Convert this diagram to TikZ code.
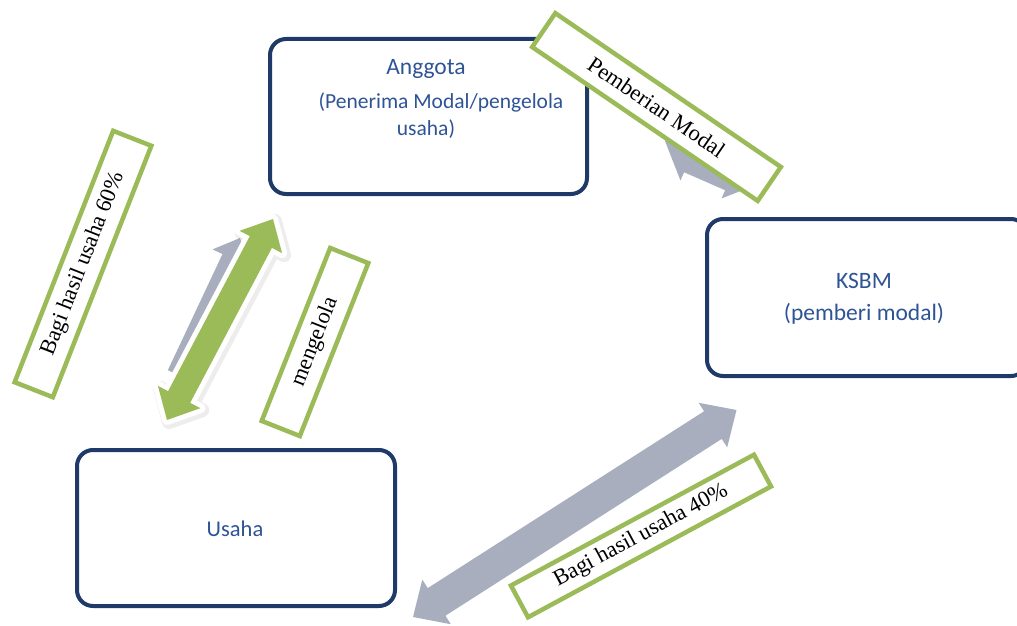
\documentclass[tikz,border=0pt]{standalone}
\usepackage{fontspec}
\setmainfont{Liberation Serif}
\newfontfamily\boxfont{Carlito}
\usepackage{tikz}
\usetikzlibrary{calc}
\definecolor{boxblue}{RGB}{31,58,104}
\definecolor{txtblue}{RGB}{46,84,150}
\definecolor{lblgreen}{RGB}{155,187,89}
\definecolor{arrgray}{RGB}{168,174,189}

% block arrow with two heads: style, from, to, shaft half, head half, head length
\newcommand{\dblarrow}[6]{%
  \path[#1] (#2)
    -- ($(#2)!#6pt!(#3)!#5pt!90:(#3)$) -- ($(#2)!#6pt!(#3)!#4pt!90:(#3)$)
    -- ($(#3)!#6pt!(#2)!#4pt!-90:(#2)$) -- ($(#3)!#6pt!(#2)!#5pt!-90:(#2)$)
    -- (#3)
    -- ($(#3)!#6pt!(#2)!#5pt!90:(#2)$) -- ($(#3)!#6pt!(#2)!#4pt!90:(#2)$)
    -- ($(#2)!#6pt!(#3)!#4pt!-90:(#3)$) -- ($(#2)!#6pt!(#3)!#5pt!-90:(#3)$)
    -- cycle;}
% block arrow with one head: style, tail, tip, shaft half, head half, head length
\newcommand{\onearrow}[6]{%
  \path[#1] ($(#2)!#4pt!90:(#3)$)
    -- ($(#3)!#6pt!(#2)!#4pt!-90:(#2)$) -- ($(#3)!#6pt!(#2)!#5pt!-90:(#2)$)
    -- (#3)
    -- ($(#3)!#6pt!(#2)!#5pt!90:(#2)$) -- ($(#3)!#6pt!(#2)!#4pt!90:(#2)$)
    -- ($(#2)!#4pt!-90:(#3)$) -- cycle;}

\begin{document}
\begin{tikzpicture}[
  x=1pt, y=-1pt,
  party/.style = {rectangle, rounded corners=16pt, draw=boxblue,
                  line width=4pt, fill=white},
  ptext/.style = {align=center, text=txtblue, inner sep=0pt,
                  font=\boxfont\fontsize{21.5pt}{26.7pt}\selectfont},
  lbl/.style   = {rectangle, draw=lblgreen, line width=4.5pt, fill=white,
                  inner sep=0pt, font=\fontsize{22.5pt}{27pt}\selectfont}
]
\useasboundingbox (0,0) rectangle (1017,626);

% the three parties
\node[party, minimum width=317pt, minimum height=155pt] (anggota) at (428.5,116.5) {};
\node[party, minimum width=320pt, minimum height=157pt] (ksbm) at (867,297.5) {};
\node[party, minimum width=318pt, minimum height=156pt] (usaha) at (236,528) {};

\node[ptext] (anggotatxt) at (426,99)
      {\fontsize{23.5pt}{28pt}\selectfont Anggota\\[7.5pt]%
       \fontsize{21.5pt}{26.7pt}\selectfont\hspace*{30pt}(Penerima Modal/pengelola\\usaha)};
\node[ptext, font=\boxfont\fontsize{23.5pt}{29pt}\selectfont] (ksbmtxt) at (864,299)
      {KSBM\\[3.3pt](pemberi modal)};
\node[ptext, font=\boxfont\fontsize{22.5pt}{27pt}\selectfont] (usahatxt) at (235,528.5)
      {Usaha};

% arrow ends
\coordinate (mg1) at (176,374);
\coordinate (mg2) at (240,238);
\coordinate (mk1) at (167,420);
\coordinate (mk2) at (273,219);
\coordinate (pm1) at (665,141);
\coordinate (pm2) at (761,183);
\coordinate (bh1) at (413,617);
\coordinate (bh2) at (736.5,410);

\onearrow{fill=arrgray}{mg1}{mg2}{9}{20}{22}
\dblarrow{fill=lblgreen,
  preaction={draw=black, draw opacity=0.07, line width=14pt, line join=round,
             transform canvas={shift={(2pt,-2pt)}}},
  preaction={draw=white, line width=10pt, line join=round}}{mk1}{mk2}{12.5}{24}{26}
\dblarrow{fill=arrgray}{pm1}{pm2}{21}{30}{30}
\dblarrow{fill=arrgray}{bh1}{bh2}{16.4}{26.5}{28}

% labels on the flows
\node[lbl, rotate=68.6, minimum width=270pt, minimum height=41pt] (lbl60) at (83,264)
      {Bagi hasil usaha 60\%};
\node[lbl, rotate=68.4, minimum width=186pt, minimum height=41pt] (lblkelola) at (315,342)
      {mengelola};
\node[lbl, rotate=-34.3, minimum width=273pt, minimum height=41pt] (lblmodal) at (656.5,107)
      {Pemberian Modal};
\node[lbl, rotate=28.3, minimum width=276pt, minimum height=36pt] (lbl40) at (641,536)
      {Bagi hasil usaha 40\%};
\end{tikzpicture}
\end{document}
